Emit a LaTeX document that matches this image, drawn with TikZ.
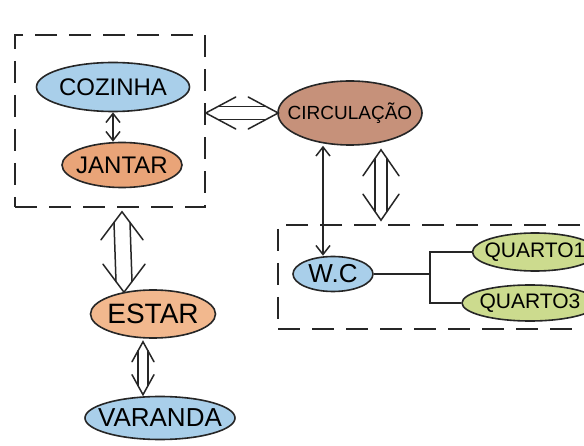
\documentclass[tikz,border=0pt]{standalone}
\usepackage{fontspec}
\setmainfont{Liberation Sans}
\usetikzlibrary{shapes.geometric,arrows.meta,calc}
\definecolor{cblue}{HTML}{A9CFEA}
\definecolor{corange}{HTML}{E9A478}
\definecolor{clight}{HTML}{F2B88E}
\definecolor{cbrown}{HTML}{C6917A}
\definecolor{cgreen}{HTML}{CCDB8E}
\tikzset{
  room/.style={ellipse, draw=black!85, line width=1.6pt, inner sep=0pt},
  fs/.style={font=\fontsize{#1}{#1}\selectfont},
  dashbox/.style={draw=black!85, line width=1.6pt, dash pattern=on 22pt off 12pt, rectangle, inner sep=0pt},
  arr/.style={line width=1.5pt, draw=black!85, {Straight Barb[length=9pt,width=14pt]}-{Straight Barb[length=9pt,width=14pt]}},
  dbl/.style={draw=black!85, line width=1.5pt, line cap=round, line join=miter},
  plain/.style={line width=1.5pt, draw=black!85}
}
\newcommand{\lbl}[1]{\makebox[0pt]{#1}}
% vertical double arrow: top, bottom, half gap, arm spread, arm length
\newcommand{\mydblv}[5]{%
  \pgfmathsetmacro\mydd{#5*#3/#4}%
  \draw[dbl] ($(#1)+(-#3,\mydd)$) -- ($(#2)+(-#3,-\mydd)$);
  \draw[dbl] ($(#1)+(#3,\mydd)$) -- ($(#2)+(#3,-\mydd)$);
  \draw[dbl] ($(#1)+(-#4,#5)$) -- (#1) -- ($(#1)+(#4,#5)$);
  \draw[dbl] ($(#2)+(-#4,-#5)$) -- (#2) -- ($(#2)+(#4,-#5)$);
}
% horizontal double arrow: left, right, half gap, arm spread, arm length
\newcommand{\mydblh}[5]{%
  \pgfmathsetmacro\mydd{#5*#3/#4}%
  \draw[dbl] ($(#1)+(\mydd,-#3)$) -- ($(#2)+(-\mydd,-#3)$);
  \draw[dbl] ($(#1)+(\mydd,#3)$) -- ($(#2)+(-\mydd,#3)$);
  \draw[dbl] ($(#1)+(#5,-#4)$) -- (#1) -- ($(#1)+(#5,#4)$);
  \draw[dbl] ($(#2)+(-#5,-#4)$) -- (#2) -- ($(#2)+(-#5,#4)$);
}
\begin{document}
\begin{tikzpicture}[x=1pt,y=-1pt]
\useasboundingbox (0,0) rectangle (584,446);
\fill[white] (0,0) rectangle (584,446);
\begin{scope}
\clip (0,0) rectangle (584,446);
% dashed boxes
\node[dashbox, minimum width=190pt, minimum height=172pt] (box1) at (110,121) {};
\node[dashbox, minimum width=320pt, minimum height=104pt] (box2) at (438,277) {};
% rooms
\node[room, fill=cblue, minimum width=153pt, minimum height=49pt, fs=24] (coz) at (113,87) {\lbl{COZINHA}};
\node[room, fill=corange, minimum width=120pt, minimum height=45pt, fs=24] (jan) at (122,165) {\lbl{JANTAR}};
\node[room, fill=cbrown, minimum width=144pt, minimum height=64pt, fs=19] (circ) at (350,113) {\lbl{CIRCULAÇÃO}};
\node[room, fill=cblue, minimum width=80pt, minimum height=35pt, fs=26] (wc) at (333,274) {\lbl{W.C}};
\node[room, fill=cgreen, minimum width=125pt, minimum height=38pt, fs=21] (q1) at (535,252) {\lbl{QUARTO1}};
\node[room, fill=cgreen, minimum width=136pt, minimum height=36pt, fs=21] (q2) at (530,303) {\lbl{QUARTO3}};
\node[room, fill=clight, minimum width=125pt, minimum height=48pt, fs=28] (est) at (153,314) {\lbl{ESTAR}};
\node[room, fill=cblue, minimum width=150pt, minimum height=43pt, fs=26] (var) at (160,418) {\lbl{VARANDA}};
\coordinate (jn) at (430,277);
% anchor points of the double arrows
\coordinate (h1a) at (box1.east |- circ.west);
\coordinate (h1b) at ([xshift=1pt]circ.west);
\coordinate (v1a) at ([xshift=31pt,yshift=-4pt]circ.south);
\coordinate (v1b) at ([yshift=4pt]v1a |- box2.north);
\coordinate (v2a) at ([yshift=-4pt]122,0 |- box1.south);
\coordinate (v2b) at ([xshift=-29pt,yshift=-3pt]est.north);
\coordinate (v3a) at ([xshift=-10pt,yshift=-3pt]est.south);
\coordinate (v3b) at ([yshift=1pt]v3a |- var.north);
% connectors
\draw[arr] (coz.south) -- (coz.south |- jan.north);
\mydblh{h1a}{h1b}{6.5}{16}{30}
\draw[arr] ([xshift=-10pt]wc.north) -- ([xshift=-10pt]wc.north |- circ.south);
\mydblv{v1a}{v1b}{6}{18}{26}
\draw[plain] (wc.east) -- (wc.east -| jn);
\draw[plain] (q1.west) -| (jn |- q2.west) -- (q2.west);
\mydblv{v2a}{v2b}{8}{21}{28}
\mydblv{v3a}{v3b}{5}{11}{20}
\end{scope}
\end{tikzpicture}
\end{document}
